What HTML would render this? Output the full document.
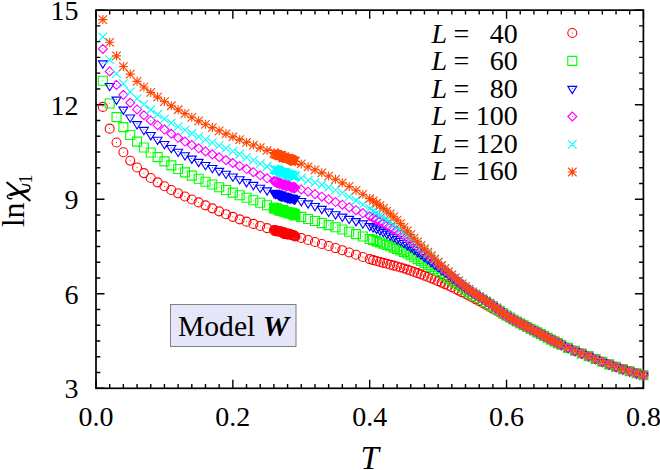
<!DOCTYPE html>
<html><head><meta charset="utf-8"><title>chart</title>
<style>
html,body{margin:0;padding:0;background:#fff;}
svg{display:block;font-family:"Liberation Serif",serif;}
</style></head><body>
<svg width="660" height="470" viewBox="0 0 660 470">
<rect width="660" height="470" fill="#fff"/>
<g font-size="28" fill="#000">
<text x="96" y="426.4" text-anchor="middle">0.0</text>
<text x="232.85" y="426.4" text-anchor="middle">0.2</text>
<text x="369.7" y="426.4" text-anchor="middle">0.4</text>
<text x="506.55" y="426.4" text-anchor="middle">0.6</text>
<text x="643.4" y="426.4" text-anchor="middle">0.8</text>
<text x="78.6" y="398.2" text-anchor="end">3</text>
<text x="78.6" y="303.66" text-anchor="end">6</text>
<text x="78.6" y="209.12" text-anchor="end">9</text>
<text x="78.6" y="114.59" text-anchor="end">12</text>
<text x="78.6" y="20.05" text-anchor="end">15</text>
<text x="431.6" y="42.7" font-style="italic">L</text><text x="453.4" y="42.7">=</text><text x="517.7" y="42.7" text-anchor="end">40</text>
<text x="431.6" y="70.2" font-style="italic">L</text><text x="453.4" y="70.2">=</text><text x="517.7" y="70.2" text-anchor="end">60</text>
<text x="431.6" y="97.8" font-style="italic">L</text><text x="453.4" y="97.8">=</text><text x="517.7" y="97.8" text-anchor="end">80</text>
<text x="431.6" y="125.3" font-style="italic">L</text><text x="453.4" y="125.3">=</text><text x="517.7" y="125.3" text-anchor="end">100</text>
<text x="431.6" y="152.9" font-style="italic">L</text><text x="453.4" y="152.9">=</text><text x="517.7" y="152.9" text-anchor="end">120</text>
<text x="431.6" y="180.4" font-style="italic">L</text><text x="453.4" y="180.4">=</text><text x="517.7" y="180.4" text-anchor="end">160</text>
</g>
<text x="369.6" y="469.3" font-size="33" font-style="italic" text-anchor="middle">T</text>
<text transform="translate(23.9,227.3) rotate(-90)" font-size="32">ln</text>
<text transform="translate(31.9,183.6) rotate(-90)" font-size="18">1</text>
<g fill="none" stroke="#000" stroke-linecap="round" transform="translate(0,0.6)">
<path d="M7.2,182 L29.7,199.7" stroke-width="2.1"/>
<path d="M11.8,197.9 C7.5,199 5.8,194.6 9.0,194.3 C13,194 15.5,192.8 18.2,192 C22,190.9 26,191.5 29,189.3 C31,187.6 30,184.6 27,184.4 C25,184.2 23.6,184.5 22.6,183.7" stroke-width="1.4"/>
<path d="M11,194 C14,193.4 16,192.6 18.2,192 C22,190.9 25,191.2 27.5,190.2" stroke-width="3.1"/>
</g>
<rect x="170.5" y="304.5" width="125.5" height="42" fill="#e6e6fa" stroke="#808080" stroke-width="1"/>
<text x="178" y="335.5" font-size="29.6">Model <tspan font-style="italic" font-weight="bold">W</tspan></text>
<path d="M96 388.3v-8.5M96 10.15v8.5M109.69 388.3v-4.3M109.69 10.15v4.3M123.37 388.3v-4.3M123.37 10.15v4.3M137.06 388.3v-4.3M137.06 10.15v4.3M150.74 388.3v-4.3M150.74 10.15v4.3M164.43 388.3v-4.3M164.43 10.15v4.3M178.11 388.3v-4.3M178.11 10.15v4.3M191.8 388.3v-4.3M191.8 10.15v4.3M205.48 388.3v-4.3M205.48 10.15v4.3M219.16 388.3v-4.3M219.16 10.15v4.3M232.85 388.3v-8.5M232.85 10.15v8.5M246.53 388.3v-4.3M246.53 10.15v4.3M260.22 388.3v-4.3M260.22 10.15v4.3M273.9 388.3v-4.3M273.9 10.15v4.3M287.59 388.3v-4.3M287.59 10.15v4.3M301.27 388.3v-4.3M301.27 10.15v4.3M314.96 388.3v-4.3M314.96 10.15v4.3M328.64 388.3v-4.3M328.64 10.15v4.3M342.33 388.3v-4.3M342.33 10.15v4.3M356.01 388.3v-4.3M356.01 10.15v4.3M369.7 388.3v-8.5M369.7 10.15v8.5M383.38 388.3v-4.3M383.38 10.15v4.3M397.07 388.3v-4.3M397.07 10.15v4.3M410.75 388.3v-4.3M410.75 10.15v4.3M424.44 388.3v-4.3M424.44 10.15v4.3M438.12 388.3v-4.3M438.12 10.15v4.3M451.81 388.3v-4.3M451.81 10.15v4.3M465.5 388.3v-4.3M465.5 10.15v4.3M479.18 388.3v-4.3M479.18 10.15v4.3M492.86 388.3v-4.3M492.86 10.15v4.3M506.55 388.3v-8.5M506.55 10.15v8.5M520.23 388.3v-4.3M520.23 10.15v4.3M533.92 388.3v-4.3M533.92 10.15v4.3M547.61 388.3v-4.3M547.61 10.15v4.3M561.29 388.3v-4.3M561.29 10.15v4.3M574.97 388.3v-4.3M574.97 10.15v4.3M588.66 388.3v-4.3M588.66 10.15v4.3M602.34 388.3v-4.3M602.34 10.15v4.3M616.03 388.3v-4.3M616.03 10.15v4.3M629.71 388.3v-4.3M629.71 10.15v4.3M643.4 388.3v-8.5M643.4 10.15v8.5M96 388.3h8.5M643.4 388.3h-8.5M96 372.54h4.3M643.4 372.54h-4.3M96 356.79h4.3M643.4 356.79h-4.3M96 341.03h4.3M643.4 341.03h-4.3M96 325.27h4.3M643.4 325.27h-4.3M96 309.52h4.3M643.4 309.52h-4.3M96 293.76h8.5M643.4 293.76h-8.5M96 278.01h4.3M643.4 278.01h-4.3M96 262.25h4.3M643.4 262.25h-4.3M96 246.49h4.3M643.4 246.49h-4.3M96 230.74h4.3M643.4 230.74h-4.3M96 214.98h4.3M643.4 214.98h-4.3M96 199.22h8.5M643.4 199.22h-8.5M96 183.47h4.3M643.4 183.47h-4.3M96 167.71h4.3M643.4 167.71h-4.3M96 151.96h4.3M643.4 151.96h-4.3M96 136.2h4.3M643.4 136.2h-4.3M96 120.44h4.3M643.4 120.44h-4.3M96 104.69h8.5M643.4 104.69h-8.5M96 88.93h4.3M643.4 88.93h-4.3M96 73.17h4.3M643.4 73.17h-4.3M96 57.42h4.3M643.4 57.42h-4.3M96 41.66h4.3M643.4 41.66h-4.3M96 25.91h4.3M643.4 25.91h-4.3M96 10.15h8.5M643.4 10.15h-8.5" stroke="#000" stroke-width="1.4" fill="none"/>
<rect x="96" y="10.15" width="547.4" height="378.15" fill="none" stroke="#000" stroke-width="1.7"/>
<g fill="none" stroke-width="1.1">
<path stroke="#ff0000" d="M98.34 106.89a4.5 4.5 0 1 0 9.0 0a4.5 4.5 0 1 0 -9.0 0M105.19 128.64a4.5 4.5 0 1 0 9.0 0a4.5 4.5 0 1 0 -9.0 0M112.03 142.5a4.5 4.5 0 1 0 9.0 0a4.5 4.5 0 1 0 -9.0 0M118.87 152.27a4.5 4.5 0 1 0 9.0 0a4.5 4.5 0 1 0 -9.0 0M125.71 160.78a4.5 4.5 0 1 0 9.0 0a4.5 4.5 0 1 0 -9.0 0M132.56 167.48a4.5 4.5 0 1 0 9.0 0a4.5 4.5 0 1 0 -9.0 0M139.4 173.11a4.5 4.5 0 1 0 9.0 0a4.5 4.5 0 1 0 -9.0 0M146.24 177.99a4.5 4.5 0 1 0 9.0 0a4.5 4.5 0 1 0 -9.0 0M153.08 182.33a4.5 4.5 0 1 0 9.0 0a4.5 4.5 0 1 0 -9.0 0M159.93 186.3a4.5 4.5 0 1 0 9.0 0a4.5 4.5 0 1 0 -9.0 0M166.77 189.96a4.5 4.5 0 1 0 9.0 0a4.5 4.5 0 1 0 -9.0 0M173.61 193.32a4.5 4.5 0 1 0 9.0 0a4.5 4.5 0 1 0 -9.0 0M180.45 196.45a4.5 4.5 0 1 0 9.0 0a4.5 4.5 0 1 0 -9.0 0M187.3 199.45a4.5 4.5 0 1 0 9.0 0a4.5 4.5 0 1 0 -9.0 0M194.14 202.38a4.5 4.5 0 1 0 9.0 0a4.5 4.5 0 1 0 -9.0 0M200.98 205.35a4.5 4.5 0 1 0 9.0 0a4.5 4.5 0 1 0 -9.0 0M207.82 208.36a4.5 4.5 0 1 0 9.0 0a4.5 4.5 0 1 0 -9.0 0M214.66 211.34a4.5 4.5 0 1 0 9.0 0a4.5 4.5 0 1 0 -9.0 0M221.51 214.21a4.5 4.5 0 1 0 9.0 0a4.5 4.5 0 1 0 -9.0 0M228.35 216.87a4.5 4.5 0 1 0 9.0 0a4.5 4.5 0 1 0 -9.0 0M235.19 219.33a4.5 4.5 0 1 0 9.0 0a4.5 4.5 0 1 0 -9.0 0M242.03 221.67a4.5 4.5 0 1 0 9.0 0a4.5 4.5 0 1 0 -9.0 0M248.88 223.89a4.5 4.5 0 1 0 9.0 0a4.5 4.5 0 1 0 -9.0 0M255.72 226.03a4.5 4.5 0 1 0 9.0 0a4.5 4.5 0 1 0 -9.0 0M262.56 228.09a4.5 4.5 0 1 0 9.0 0a4.5 4.5 0 1 0 -9.0 0M269.4 230.11a4.5 4.5 0 1 0 9.0 0a4.5 4.5 0 1 0 -9.0 0M269.75 230.38a4.5 4.5 0 1 0 9.0 0a4.5 4.5 0 1 0 -9.0 0M270.43 231.25a4.5 4.5 0 1 0 9.0 0a4.5 4.5 0 1 0 -9.0 0M271.12 230.06a4.5 4.5 0 1 0 9.0 0a4.5 4.5 0 1 0 -9.0 0M271.8 231.21a4.5 4.5 0 1 0 9.0 0a4.5 4.5 0 1 0 -9.0 0M272.48 231.1a4.5 4.5 0 1 0 9.0 0a4.5 4.5 0 1 0 -9.0 0M273.17 231.57a4.5 4.5 0 1 0 9.0 0a4.5 4.5 0 1 0 -9.0 0M273.85 231.35a4.5 4.5 0 1 0 9.0 0a4.5 4.5 0 1 0 -9.0 0M274.54 231.36a4.5 4.5 0 1 0 9.0 0a4.5 4.5 0 1 0 -9.0 0M275.22 231.27a4.5 4.5 0 1 0 9.0 0a4.5 4.5 0 1 0 -9.0 0M275.91 231.64a4.5 4.5 0 1 0 9.0 0a4.5 4.5 0 1 0 -9.0 0M276.25 232.09a4.5 4.5 0 1 0 9.0 0a4.5 4.5 0 1 0 -9.0 0M276.59 231.28a4.5 4.5 0 1 0 9.0 0a4.5 4.5 0 1 0 -9.0 0M277.27 232.19a4.5 4.5 0 1 0 9.0 0a4.5 4.5 0 1 0 -9.0 0M277.96 231.98a4.5 4.5 0 1 0 9.0 0a4.5 4.5 0 1 0 -9.0 0M278.64 232.38a4.5 4.5 0 1 0 9.0 0a4.5 4.5 0 1 0 -9.0 0M279.33 233.86a4.5 4.5 0 1 0 9.0 0a4.5 4.5 0 1 0 -9.0 0M280.01 232.4a4.5 4.5 0 1 0 9.0 0a4.5 4.5 0 1 0 -9.0 0M280.7 233.46a4.5 4.5 0 1 0 9.0 0a4.5 4.5 0 1 0 -9.0 0M281.38 234.28a4.5 4.5 0 1 0 9.0 0a4.5 4.5 0 1 0 -9.0 0M282.06 233.12a4.5 4.5 0 1 0 9.0 0a4.5 4.5 0 1 0 -9.0 0M282.75 234.51a4.5 4.5 0 1 0 9.0 0a4.5 4.5 0 1 0 -9.0 0M283.09 234.05a4.5 4.5 0 1 0 9.0 0a4.5 4.5 0 1 0 -9.0 0M283.43 234.76a4.5 4.5 0 1 0 9.0 0a4.5 4.5 0 1 0 -9.0 0M284.12 234.44a4.5 4.5 0 1 0 9.0 0a4.5 4.5 0 1 0 -9.0 0M284.8 234.22a4.5 4.5 0 1 0 9.0 0a4.5 4.5 0 1 0 -9.0 0M285.48 233.87a4.5 4.5 0 1 0 9.0 0a4.5 4.5 0 1 0 -9.0 0M286.17 234.3a4.5 4.5 0 1 0 9.0 0a4.5 4.5 0 1 0 -9.0 0M286.85 235.11a4.5 4.5 0 1 0 9.0 0a4.5 4.5 0 1 0 -9.0 0M287.54 235.08a4.5 4.5 0 1 0 9.0 0a4.5 4.5 0 1 0 -9.0 0M288.22 234.88a4.5 4.5 0 1 0 9.0 0a4.5 4.5 0 1 0 -9.0 0M288.91 235.81a4.5 4.5 0 1 0 9.0 0a4.5 4.5 0 1 0 -9.0 0M289.59 235.41a4.5 4.5 0 1 0 9.0 0a4.5 4.5 0 1 0 -9.0 0M289.93 236.01a4.5 4.5 0 1 0 9.0 0a4.5 4.5 0 1 0 -9.0 0M290.27 235.85a4.5 4.5 0 1 0 9.0 0a4.5 4.5 0 1 0 -9.0 0M290.96 236.56a4.5 4.5 0 1 0 9.0 0a4.5 4.5 0 1 0 -9.0 0M296.77 237.99a4.5 4.5 0 1 0 9.0 0a4.5 4.5 0 1 0 -9.0 0M303.62 239.97a4.5 4.5 0 1 0 9.0 0a4.5 4.5 0 1 0 -9.0 0M310.46 241.97a4.5 4.5 0 1 0 9.0 0a4.5 4.5 0 1 0 -9.0 0M317.3 243.97a4.5 4.5 0 1 0 9.0 0a4.5 4.5 0 1 0 -9.0 0M324.14 246.01a4.5 4.5 0 1 0 9.0 0a4.5 4.5 0 1 0 -9.0 0M330.99 248.07a4.5 4.5 0 1 0 9.0 0a4.5 4.5 0 1 0 -9.0 0M337.83 250.22a4.5 4.5 0 1 0 9.0 0a4.5 4.5 0 1 0 -9.0 0M344.67 252.48a4.5 4.5 0 1 0 9.0 0a4.5 4.5 0 1 0 -9.0 0M351.51 254.75a4.5 4.5 0 1 0 9.0 0a4.5 4.5 0 1 0 -9.0 0M358.36 256.98a4.5 4.5 0 1 0 9.0 0a4.5 4.5 0 1 0 -9.0 0M365.2 259.1a4.5 4.5 0 1 0 9.0 0a4.5 4.5 0 1 0 -9.0 0M368.62 260.09a4.5 4.5 0 1 0 9.0 0a4.5 4.5 0 1 0 -9.0 0M372.04 261.05a4.5 4.5 0 1 0 9.0 0a4.5 4.5 0 1 0 -9.0 0M375.46 261.97a4.5 4.5 0 1 0 9.0 0a4.5 4.5 0 1 0 -9.0 0M378.88 262.87a4.5 4.5 0 1 0 9.0 0a4.5 4.5 0 1 0 -9.0 0M382.31 263.77a4.5 4.5 0 1 0 9.0 0a4.5 4.5 0 1 0 -9.0 0M385.73 264.68a4.5 4.5 0 1 0 9.0 0a4.5 4.5 0 1 0 -9.0 0M389.15 265.59a4.5 4.5 0 1 0 9.0 0a4.5 4.5 0 1 0 -9.0 0M392.57 266.54a4.5 4.5 0 1 0 9.0 0a4.5 4.5 0 1 0 -9.0 0M395.99 267.52a4.5 4.5 0 1 0 9.0 0a4.5 4.5 0 1 0 -9.0 0M399.41 268.55a4.5 4.5 0 1 0 9.0 0a4.5 4.5 0 1 0 -9.0 0M402.83 269.64a4.5 4.5 0 1 0 9.0 0a4.5 4.5 0 1 0 -9.0 0M406.25 270.77a4.5 4.5 0 1 0 9.0 0a4.5 4.5 0 1 0 -9.0 0M409.68 271.94a4.5 4.5 0 1 0 9.0 0a4.5 4.5 0 1 0 -9.0 0M413.1 273.16a4.5 4.5 0 1 0 9.0 0a4.5 4.5 0 1 0 -9.0 0M416.52 274.42a4.5 4.5 0 1 0 9.0 0a4.5 4.5 0 1 0 -9.0 0M419.94 275.71a4.5 4.5 0 1 0 9.0 0a4.5 4.5 0 1 0 -9.0 0M423.36 277.03a4.5 4.5 0 1 0 9.0 0a4.5 4.5 0 1 0 -9.0 0M426.78 278.38a4.5 4.5 0 1 0 9.0 0a4.5 4.5 0 1 0 -9.0 0M430.2 279.76a4.5 4.5 0 1 0 9.0 0a4.5 4.5 0 1 0 -9.0 0M433.62 281.16a4.5 4.5 0 1 0 9.0 0a4.5 4.5 0 1 0 -9.0 0M437.05 282.6a4.5 4.5 0 1 0 9.0 0a4.5 4.5 0 1 0 -9.0 0M440.47 284.11a4.5 4.5 0 1 0 9.0 0a4.5 4.5 0 1 0 -9.0 0M443.89 285.67a4.5 4.5 0 1 0 9.0 0a4.5 4.5 0 1 0 -9.0 0M447.31 287.28a4.5 4.5 0 1 0 9.0 0a4.5 4.5 0 1 0 -9.0 0M450.73 288.93a4.5 4.5 0 1 0 9.0 0a4.5 4.5 0 1 0 -9.0 0M454.15 290.61a4.5 4.5 0 1 0 9.0 0a4.5 4.5 0 1 0 -9.0 0M457.57 292.32a4.5 4.5 0 1 0 9.0 0a4.5 4.5 0 1 0 -9.0 0M461 294.05a4.5 4.5 0 1 0 9.0 0a4.5 4.5 0 1 0 -9.0 0M464.42 295.79a4.5 4.5 0 1 0 9.0 0a4.5 4.5 0 1 0 -9.0 0M467.84 297.54a4.5 4.5 0 1 0 9.0 0a4.5 4.5 0 1 0 -9.0 0M471.26 299.33a4.5 4.5 0 1 0 9.0 0a4.5 4.5 0 1 0 -9.0 0M474.68 301.16a4.5 4.5 0 1 0 9.0 0a4.5 4.5 0 1 0 -9.0 0M478.1 303.04a4.5 4.5 0 1 0 9.0 0a4.5 4.5 0 1 0 -9.0 0M481.52 304.95a4.5 4.5 0 1 0 9.0 0a4.5 4.5 0 1 0 -9.0 0M484.94 306.88a4.5 4.5 0 1 0 9.0 0a4.5 4.5 0 1 0 -9.0 0M488.36 308.82a4.5 4.5 0 1 0 9.0 0a4.5 4.5 0 1 0 -9.0 0M491.79 310.76a4.5 4.5 0 1 0 9.0 0a4.5 4.5 0 1 0 -9.0 0M495.21 312.69a4.5 4.5 0 1 0 9.0 0a4.5 4.5 0 1 0 -9.0 0M498.63 314.59a4.5 4.5 0 1 0 9.0 0a4.5 4.5 0 1 0 -9.0 0M502.05 316.45a4.5 4.5 0 1 0 9.0 0a4.5 4.5 0 1 0 -9.0 0M505.47 318.29a4.5 4.5 0 1 0 9.0 0a4.5 4.5 0 1 0 -9.0 0M508.89 320.11a4.5 4.5 0 1 0 9.0 0a4.5 4.5 0 1 0 -9.0 0M512.31 321.91a4.5 4.5 0 1 0 9.0 0a4.5 4.5 0 1 0 -9.0 0M515.73 323.7a4.5 4.5 0 1 0 9.0 0a4.5 4.5 0 1 0 -9.0 0M519.16 325.46a4.5 4.5 0 1 0 9.0 0a4.5 4.5 0 1 0 -9.0 0M522.58 327.19a4.5 4.5 0 1 0 9.0 0a4.5 4.5 0 1 0 -9.0 0M526 328.91a4.5 4.5 0 1 0 9.0 0a4.5 4.5 0 1 0 -9.0 0M529.42 330.63a4.5 4.5 0 1 0 9.0 0a4.5 4.5 0 1 0 -9.0 0M532.84 332.35a4.5 4.5 0 1 0 9.0 0a4.5 4.5 0 1 0 -9.0 0M536.26 334.1a4.5 4.5 0 1 0 9.0 0a4.5 4.5 0 1 0 -9.0 0M539.68 335.89a4.5 4.5 0 1 0 9.0 0a4.5 4.5 0 1 0 -9.0 0M543.11 337.72a4.5 4.5 0 1 0 9.0 0a4.5 4.5 0 1 0 -9.0 0M546.53 339.56a4.5 4.5 0 1 0 9.0 0a4.5 4.5 0 1 0 -9.0 0M549.95 341.38a4.5 4.5 0 1 0 9.0 0a4.5 4.5 0 1 0 -9.0 0M553.37 343.14a4.5 4.5 0 1 0 9.0 0a4.5 4.5 0 1 0 -9.0 0M556.79 344.81a4.5 4.5 0 1 0 9.0 0a4.5 4.5 0 1 0 -9.0 0M563.63 347.91a4.5 4.5 0 1 0 9.0 0a4.5 4.5 0 1 0 -9.0 0M570.47 350.8a4.5 4.5 0 1 0 9.0 0a4.5 4.5 0 1 0 -9.0 0M577.32 353.51a4.5 4.5 0 1 0 9.0 0a4.5 4.5 0 1 0 -9.0 0M584.16 356.16a4.5 4.5 0 1 0 9.0 0a4.5 4.5 0 1 0 -9.0 0M591 358.93a4.5 4.5 0 1 0 9.0 0a4.5 4.5 0 1 0 -9.0 0M597.84 361.72a4.5 4.5 0 1 0 9.0 0a4.5 4.5 0 1 0 -9.0 0M604.69 364.35a4.5 4.5 0 1 0 9.0 0a4.5 4.5 0 1 0 -9.0 0M611.53 366.79a4.5 4.5 0 1 0 9.0 0a4.5 4.5 0 1 0 -9.0 0M618.37 369.1a4.5 4.5 0 1 0 9.0 0a4.5 4.5 0 1 0 -9.0 0M625.21 371.28a4.5 4.5 0 1 0 9.0 0a4.5 4.5 0 1 0 -9.0 0M632.06 373.32a4.5 4.5 0 1 0 9.0 0a4.5 4.5 0 1 0 -9.0 0M638.9 375.22a4.5 4.5 0 1 0 9.0 0a4.5 4.5 0 1 0 -9.0 0M567.8 33a4.5 4.5 0 1 0 9.0 0a4.5 4.5 0 1 0 -9.0 0"/><path stroke="#ff0000" stroke-linecap="round" stroke-width="1" d="M102.84 106.89h0M109.69 128.64h0M116.53 142.5h0M123.37 152.27h0M130.21 160.78h0M137.06 167.48h0M143.9 173.11h0M150.74 177.99h0M157.58 182.33h0M164.43 186.3h0M171.27 189.96h0M178.11 193.32h0M184.95 196.45h0M191.8 199.45h0M198.64 202.38h0M205.48 205.35h0M212.32 208.36h0M219.16 211.34h0M226.01 214.21h0M232.85 216.87h0M239.69 219.33h0M246.53 221.67h0M253.38 223.89h0M260.22 226.03h0M267.06 228.09h0M273.9 230.11h0M274.25 230.38h0M274.93 231.25h0M275.62 230.06h0M276.3 231.21h0M276.98 231.1h0M277.67 231.57h0M278.35 231.35h0M279.04 231.36h0M279.72 231.27h0M280.41 231.64h0M280.75 232.09h0M281.09 231.28h0M281.77 232.19h0M282.46 231.98h0M283.14 232.38h0M283.83 233.86h0M284.51 232.4h0M285.2 233.46h0M285.88 234.28h0M286.56 233.12h0M287.25 234.51h0M287.59 234.05h0M287.93 234.76h0M288.62 234.44h0M289.3 234.22h0M289.98 233.87h0M290.67 234.3h0M291.35 235.11h0M292.04 235.08h0M292.72 234.88h0M293.41 235.81h0M294.09 235.41h0M294.43 236.01h0M294.77 235.85h0M295.46 236.56h0M301.27 237.99h0M308.12 239.97h0M314.96 241.97h0M321.8 243.97h0M328.64 246.01h0M335.49 248.07h0M342.33 250.22h0M349.17 252.48h0M356.01 254.75h0M362.86 256.98h0M369.7 259.1h0M373.12 260.09h0M376.54 261.05h0M379.96 261.97h0M383.38 262.87h0M386.81 263.77h0M390.23 264.68h0M393.65 265.59h0M397.07 266.54h0M400.49 267.52h0M403.91 268.55h0M407.33 269.64h0M410.75 270.77h0M414.18 271.94h0M417.6 273.16h0M421.02 274.42h0M424.44 275.71h0M427.86 277.03h0M431.28 278.38h0M434.7 279.76h0M438.12 281.16h0M441.55 282.6h0M444.97 284.11h0M448.39 285.67h0M451.81 287.28h0M455.23 288.93h0M458.65 290.61h0M462.07 292.32h0M465.5 294.05h0M468.92 295.79h0M472.34 297.54h0M475.76 299.33h0M479.18 301.16h0M482.6 303.04h0M486.02 304.95h0M489.44 306.88h0M492.86 308.82h0M496.29 310.76h0M499.71 312.69h0M503.13 314.59h0M506.55 316.45h0M509.97 318.29h0M513.39 320.11h0M516.81 321.91h0M520.23 323.7h0M523.66 325.46h0M527.08 327.19h0M530.5 328.91h0M533.92 330.63h0M537.34 332.35h0M540.76 334.1h0M544.18 335.89h0M547.61 337.72h0M551.03 339.56h0M554.45 341.38h0M557.87 343.14h0M561.29 344.81h0M568.13 347.91h0M574.97 350.8h0M581.82 353.51h0M588.66 356.16h0M595.5 358.93h0M602.34 361.72h0M609.19 364.35h0M616.03 366.79h0M622.87 369.1h0M629.71 371.28h0M636.56 373.32h0M643.4 375.22h0M572.3 33h0"/>
<path stroke="#00ff00" d="M98.34 76.24h9.0v9.0h-9.0zM105.19 98.97h9.0v9.0h-9.0zM112.03 112.64h9.0v9.0h-9.0zM118.87 122.59h9.0v9.0h-9.0zM125.71 130.52h9.0v9.0h-9.0zM132.56 137.17h9.0v9.0h-9.0zM139.4 142.93h9.0v9.0h-9.0zM146.24 148.05h9.0v9.0h-9.0zM153.08 152.67h9.0v9.0h-9.0zM159.93 156.91h9.0v9.0h-9.0zM166.77 160.83h9.0v9.0h-9.0zM173.61 164.47h9.0v9.0h-9.0zM180.45 167.9h9.0v9.0h-9.0zM187.3 171.14h9.0v9.0h-9.0zM194.14 174.22h9.0v9.0h-9.0zM200.98 177.18h9.0v9.0h-9.0zM207.82 180.03h9.0v9.0h-9.0zM214.66 182.79h9.0v9.0h-9.0zM221.51 185.48h9.0v9.0h-9.0zM228.35 188.11h9.0v9.0h-9.0zM235.19 190.7h9.0v9.0h-9.0zM242.03 193.27h9.0v9.0h-9.0zM248.88 195.8h9.0v9.0h-9.0zM255.72 198.3h9.0v9.0h-9.0zM262.56 200.76h9.0v9.0h-9.0zM269.4 203.18h9.0v9.0h-9.0zM269.75 203.67h9.0v9.0h-9.0zM270.43 204.13h9.0v9.0h-9.0zM271.12 204.11h9.0v9.0h-9.0zM271.8 203.7h9.0v9.0h-9.0zM272.48 204.12h9.0v9.0h-9.0zM273.17 204.68h9.0v9.0h-9.0zM273.85 204.95h9.0v9.0h-9.0zM274.54 205.88h9.0v9.0h-9.0zM275.22 205.81h9.0v9.0h-9.0zM275.91 206.14h9.0v9.0h-9.0zM276.25 205.54h9.0v9.0h-9.0zM276.59 205.29h9.0v9.0h-9.0zM277.27 205.18h9.0v9.0h-9.0zM277.96 206.43h9.0v9.0h-9.0zM278.64 205.42h9.0v9.0h-9.0zM279.33 207.28h9.0v9.0h-9.0zM280.01 206.81h9.0v9.0h-9.0zM280.7 207.45h9.0v9.0h-9.0zM281.38 207.8h9.0v9.0h-9.0zM282.06 207.5h9.0v9.0h-9.0zM282.75 207.48h9.0v9.0h-9.0zM283.09 207.85h9.0v9.0h-9.0zM283.43 207.71h9.0v9.0h-9.0zM284.12 208.99h9.0v9.0h-9.0zM284.8 208.27h9.0v9.0h-9.0zM285.48 208.01h9.0v9.0h-9.0zM286.17 209.28h9.0v9.0h-9.0zM286.85 208.19h9.0v9.0h-9.0zM287.54 209.25h9.0v9.0h-9.0zM288.22 208.7h9.0v9.0h-9.0zM288.91 210.07h9.0v9.0h-9.0zM289.59 209.99h9.0v9.0h-9.0zM289.93 210.14h9.0v9.0h-9.0zM290.27 209.33h9.0v9.0h-9.0zM290.96 211.04h9.0v9.0h-9.0zM296.77 212.37h9.0v9.0h-9.0zM303.62 214.51h9.0v9.0h-9.0zM310.46 216.57h9.0v9.0h-9.0zM317.3 218.6h9.0v9.0h-9.0zM324.14 220.65h9.0v9.0h-9.0zM330.99 222.77h9.0v9.0h-9.0zM337.83 224.98h9.0v9.0h-9.0zM344.67 227.27h9.0v9.0h-9.0zM351.51 229.62h9.0v9.0h-9.0zM358.36 232.01h9.0v9.0h-9.0zM365.2 234.43h9.0v9.0h-9.0zM368.62 235.64h9.0v9.0h-9.0zM372.04 236.85h9.0v9.0h-9.0zM375.46 238.05h9.0v9.0h-9.0zM378.88 239.27h9.0v9.0h-9.0zM382.31 240.51h9.0v9.0h-9.0zM385.73 241.78h9.0v9.0h-9.0zM389.15 243.09h9.0v9.0h-9.0zM392.57 244.45h9.0v9.0h-9.0zM395.99 245.87h9.0v9.0h-9.0zM399.41 247.35h9.0v9.0h-9.0zM402.83 248.98h9.0v9.0h-9.0zM406.25 250.79h9.0v9.0h-9.0zM409.68 252.69h9.0v9.0h-9.0zM413.1 254.6h9.0v9.0h-9.0zM416.52 256.5h9.0v9.0h-9.0zM419.94 258.44h9.0v9.0h-9.0zM423.36 260.4h9.0v9.0h-9.0zM426.78 262.41h9.0v9.0h-9.0zM430.2 264.47h9.0v9.0h-9.0zM433.62 266.57h9.0v9.0h-9.0zM437.05 268.77h9.0v9.0h-9.0zM440.47 271.06h9.0v9.0h-9.0zM443.89 273.39h9.0v9.0h-9.0zM447.31 275.71h9.0v9.0h-9.0zM450.73 278.05h9.0v9.0h-9.0zM454.15 280.43h9.0v9.0h-9.0zM457.57 282.8h9.0v9.0h-9.0zM461 285.13h9.0v9.0h-9.0zM464.42 287.37h9.0v9.0h-9.0zM467.84 289.5h9.0v9.0h-9.0zM471.26 291.54h9.0v9.0h-9.0zM474.68 293.54h9.0v9.0h-9.0zM478.1 295.53h9.0v9.0h-9.0zM481.52 297.56h9.0v9.0h-9.0zM484.94 299.66h9.0v9.0h-9.0zM488.36 301.88h9.0v9.0h-9.0zM491.79 304.2h9.0v9.0h-9.0zM495.21 306.53h9.0v9.0h-9.0zM498.63 308.83h9.0v9.0h-9.0zM502.05 311.01h9.0v9.0h-9.0zM505.47 313.07h9.0v9.0h-9.0zM508.89 315.06h9.0v9.0h-9.0zM512.31 316.99h9.0v9.0h-9.0zM515.73 318.88h9.0v9.0h-9.0zM519.16 320.74h9.0v9.0h-9.0zM522.58 322.54h9.0v9.0h-9.0zM526 324.31h9.0v9.0h-9.0zM529.42 326.07h9.0v9.0h-9.0zM532.84 327.83h9.0v9.0h-9.0zM536.26 329.6h9.0v9.0h-9.0zM539.68 331.41h9.0v9.0h-9.0zM543.11 333.24h9.0v9.0h-9.0zM546.53 335.08h9.0v9.0h-9.0zM549.95 336.89h9.0v9.0h-9.0zM553.37 338.64h9.0v9.0h-9.0zM556.79 340.31h9.0v9.0h-9.0zM563.63 343.41h9.0v9.0h-9.0zM570.47 346.3h9.0v9.0h-9.0zM577.32 349.01h9.0v9.0h-9.0zM584.16 351.66h9.0v9.0h-9.0zM591 354.43h9.0v9.0h-9.0zM597.84 357.22h9.0v9.0h-9.0zM604.69 359.85h9.0v9.0h-9.0zM611.53 362.29h9.0v9.0h-9.0zM618.37 364.6h9.0v9.0h-9.0zM625.21 366.78h9.0v9.0h-9.0zM632.06 368.82h9.0v9.0h-9.0zM638.9 370.72h9.0v9.0h-9.0zM567.8 56.4h9.0v9.0h-9.0z"/><path stroke="#00ff00" stroke-linecap="round" stroke-width="1" d="M102.84 80.74h0M109.69 103.47h0M116.53 117.14h0M123.37 127.09h0M130.21 135.02h0M137.06 141.67h0M143.9 147.43h0M150.74 152.55h0M157.58 157.17h0M164.43 161.41h0M171.27 165.33h0M178.11 168.97h0M184.95 172.4h0M191.8 175.64h0M198.64 178.72h0M205.48 181.68h0M212.32 184.53h0M219.16 187.29h0M226.01 189.98h0M232.85 192.61h0M239.69 195.2h0M246.53 197.77h0M253.38 200.3h0M260.22 202.8h0M267.06 205.26h0M273.9 207.68h0M274.25 208.17h0M274.93 208.63h0M275.62 208.61h0M276.3 208.2h0M276.98 208.62h0M277.67 209.18h0M278.35 209.45h0M279.04 210.38h0M279.72 210.31h0M280.41 210.64h0M280.75 210.04h0M281.09 209.79h0M281.77 209.68h0M282.46 210.93h0M283.14 209.92h0M283.83 211.78h0M284.51 211.31h0M285.2 211.95h0M285.88 212.3h0M286.56 212h0M287.25 211.98h0M287.59 212.35h0M287.93 212.21h0M288.62 213.49h0M289.3 212.77h0M289.98 212.51h0M290.67 213.78h0M291.35 212.69h0M292.04 213.75h0M292.72 213.2h0M293.41 214.57h0M294.09 214.49h0M294.43 214.64h0M294.77 213.83h0M295.46 215.54h0M301.27 216.87h0M308.12 219.01h0M314.96 221.07h0M321.8 223.1h0M328.64 225.15h0M335.49 227.27h0M342.33 229.48h0M349.17 231.77h0M356.01 234.12h0M362.86 236.51h0M369.7 238.93h0M373.12 240.14h0M376.54 241.35h0M379.96 242.55h0M383.38 243.77h0M386.81 245.01h0M390.23 246.28h0M393.65 247.59h0M397.07 248.95h0M400.49 250.37h0M403.91 251.85h0M407.33 253.48h0M410.75 255.29h0M414.18 257.19h0M417.6 259.1h0M421.02 261h0M424.44 262.94h0M427.86 264.9h0M431.28 266.91h0M434.7 268.97h0M438.12 271.07h0M441.55 273.27h0M444.97 275.56h0M448.39 277.89h0M451.81 280.21h0M455.23 282.55h0M458.65 284.93h0M462.07 287.3h0M465.5 289.63h0M468.92 291.87h0M472.34 294h0M475.76 296.04h0M479.18 298.04h0M482.6 300.03h0M486.02 302.06h0M489.44 304.16h0M492.86 306.38h0M496.29 308.7h0M499.71 311.03h0M503.13 313.33h0M506.55 315.51h0M509.97 317.57h0M513.39 319.56h0M516.81 321.49h0M520.23 323.38h0M523.66 325.24h0M527.08 327.04h0M530.5 328.81h0M533.92 330.57h0M537.34 332.33h0M540.76 334.1h0M544.18 335.91h0M547.61 337.74h0M551.03 339.58h0M554.45 341.39h0M557.87 343.14h0M561.29 344.81h0M568.13 347.91h0M574.97 350.8h0M581.82 353.51h0M588.66 356.16h0M595.5 358.93h0M602.34 361.72h0M609.19 364.35h0M616.03 366.79h0M622.87 369.1h0M629.71 371.28h0M636.56 373.32h0M643.4 375.22h0M572.3 60.9h0"/>
<path stroke="#0000ff" d="M102.84 68.13l-4.5 -7.29h9zM109.69 90.81l-4.5 -7.29h9zM116.53 104.44l-4.5 -7.29h9zM123.37 114.37l-4.5 -7.29h9zM130.21 122.29l-4.5 -7.29h9zM137.06 128.94l-4.5 -7.29h9zM143.9 134.71l-4.5 -7.29h9zM150.74 139.86l-4.5 -7.29h9zM157.58 144.52l-4.5 -7.29h9zM164.43 148.8l-4.5 -7.29h9zM171.27 152.79l-4.5 -7.29h9zM178.11 156.52l-4.5 -7.29h9zM184.95 160.05l-4.5 -7.29h9zM191.8 163.41l-4.5 -7.29h9zM198.64 166.63l-4.5 -7.29h9zM205.48 169.73l-4.5 -7.29h9zM212.32 172.73l-4.5 -7.29h9zM219.16 175.64l-4.5 -7.29h9zM226.01 178.48l-4.5 -7.29h9zM232.85 181.26l-4.5 -7.29h9zM239.69 184.05l-4.5 -7.29h9zM246.53 186.88l-4.5 -7.29h9zM253.38 189.71l-4.5 -7.29h9zM260.22 192.49l-4.5 -7.29h9zM267.06 195.16l-4.5 -7.29h9zM273.9 197.7l-4.5 -7.29h9zM274.25 197.78l-4.5 -7.29h9zM274.93 197.68l-4.5 -7.29h9zM275.62 198.74l-4.5 -7.29h9zM276.3 198.21l-4.5 -7.29h9zM276.98 198l-4.5 -7.29h9zM277.67 198.66l-4.5 -7.29h9zM278.35 199.79l-4.5 -7.29h9zM279.04 199.82l-4.5 -7.29h9zM279.72 200.14l-4.5 -7.29h9zM280.41 200.64l-4.5 -7.29h9zM280.75 200.03l-4.5 -7.29h9zM281.09 199.2l-4.5 -7.29h9zM281.77 201.16l-4.5 -7.29h9zM282.46 200.99l-4.5 -7.29h9zM283.14 200.73l-4.5 -7.29h9zM283.83 200.35l-4.5 -7.29h9zM284.51 201.78l-4.5 -7.29h9zM285.2 200.83l-4.5 -7.29h9zM285.88 201.86l-4.5 -7.29h9zM286.56 201.23l-4.5 -7.29h9zM287.25 202.94l-4.5 -7.29h9zM287.59 202.11l-4.5 -7.29h9zM287.93 201.89l-4.5 -7.29h9zM288.62 202.79l-4.5 -7.29h9zM289.3 202.91l-4.5 -7.29h9zM289.98 202.91l-4.5 -7.29h9zM290.67 202.97l-4.5 -7.29h9zM291.35 202.28l-4.5 -7.29h9zM292.04 202.86l-4.5 -7.29h9zM292.72 202.58l-4.5 -7.29h9zM293.41 203.51l-4.5 -7.29h9zM294.09 203.81l-4.5 -7.29h9zM294.43 203.93l-4.5 -7.29h9zM294.77 204.12l-4.5 -7.29h9zM295.46 203.51l-4.5 -7.29h9zM301.27 205.84l-4.5 -7.29h9zM308.12 208.16l-4.5 -7.29h9zM314.96 210.81l-4.5 -7.29h9zM321.8 213.63l-4.5 -7.29h9zM328.64 216.45l-4.5 -7.29h9zM335.49 219.08l-4.5 -7.29h9zM342.33 221.44l-4.5 -7.29h9zM349.17 223.67l-4.5 -7.29h9zM356.01 225.88l-4.5 -7.29h9zM362.86 228.19l-4.5 -7.29h9zM369.7 230.74l-4.5 -7.29h9zM373.12 232.13l-4.5 -7.29h9zM376.54 233.6l-4.5 -7.29h9zM379.96 235.15l-4.5 -7.29h9zM383.38 236.77l-4.5 -7.29h9zM386.81 238.46l-4.5 -7.29h9zM390.23 240.22l-4.5 -7.29h9zM393.65 242.03l-4.5 -7.29h9zM397.07 243.89l-4.5 -7.29h9zM400.49 245.8l-4.5 -7.29h9zM403.91 247.75l-4.5 -7.29h9zM407.33 249.84l-4.5 -7.29h9zM410.75 252.11l-4.5 -7.29h9zM414.18 254.49l-4.5 -7.29h9zM417.6 256.89l-4.5 -7.29h9zM421.02 259.31l-4.5 -7.29h9zM424.44 261.8l-4.5 -7.29h9zM427.86 264.32l-4.5 -7.29h9zM431.28 266.88l-4.5 -7.29h9zM434.7 269.45l-4.5 -7.29h9zM438.12 272.02l-4.5 -7.29h9zM441.55 274.6l-4.5 -7.29h9zM444.97 277.2l-4.5 -7.29h9zM448.39 279.81l-4.5 -7.29h9zM451.81 282.42l-4.5 -7.29h9zM455.23 285.04l-4.5 -7.29h9zM458.65 287.69l-4.5 -7.29h9zM462.07 290.32l-4.5 -7.29h9zM465.5 292.88l-4.5 -7.29h9zM468.92 295.34l-4.5 -7.29h9zM472.34 297.65l-4.5 -7.29h9zM475.76 299.87l-4.5 -7.29h9zM479.18 302.02l-4.5 -7.29h9zM482.6 304.16l-4.5 -7.29h9zM486.02 306.33l-4.5 -7.29h9zM489.44 308.57l-4.5 -7.29h9zM492.86 310.94l-4.5 -7.29h9zM496.29 313.41l-4.5 -7.29h9zM499.71 315.88l-4.5 -7.29h9zM503.13 318.29l-4.5 -7.29h9zM506.55 320.55l-4.5 -7.29h9zM509.97 322.63l-4.5 -7.29h9zM513.39 324.62l-4.5 -7.29h9zM516.81 326.54l-4.5 -7.29h9zM520.23 328.42l-4.5 -7.29h9zM523.66 330.28l-4.5 -7.29h9zM527.08 332.08l-4.5 -7.29h9zM530.5 333.85l-4.5 -7.29h9zM533.92 335.61l-4.5 -7.29h9zM537.34 337.37l-4.5 -7.29h9zM540.76 339.14l-4.5 -7.29h9zM544.18 340.95l-4.5 -7.29h9zM547.61 342.78l-4.5 -7.29h9zM551.03 344.62l-4.5 -7.29h9zM554.45 346.43l-4.5 -7.29h9zM557.87 348.18l-4.5 -7.29h9zM561.29 349.85l-4.5 -7.29h9zM568.13 352.95l-4.5 -7.29h9zM574.97 355.84l-4.5 -7.29h9zM581.82 358.55l-4.5 -7.29h9zM588.66 361.2l-4.5 -7.29h9zM595.5 363.97l-4.5 -7.29h9zM602.34 366.76l-4.5 -7.29h9zM609.19 369.39l-4.5 -7.29h9zM616.03 371.83l-4.5 -7.29h9zM622.87 374.14l-4.5 -7.29h9zM629.71 376.32l-4.5 -7.29h9zM636.56 378.36l-4.5 -7.29h9zM643.4 380.26l-4.5 -7.29h9zM572.3 93.64l-4.5 -7.29h9z"/><path stroke="#0000ff" stroke-linecap="round" stroke-width="1" d="M102.84 63.09h0M109.69 85.77h0M116.53 99.4h0M123.37 109.33h0M130.21 117.25h0M137.06 123.9h0M143.9 129.67h0M150.74 134.82h0M157.58 139.48h0M164.43 143.76h0M171.27 147.75h0M178.11 151.48h0M184.95 155.01h0M191.8 158.37h0M198.64 161.59h0M205.48 164.69h0M212.32 167.69h0M219.16 170.6h0M226.01 173.44h0M232.85 176.22h0M239.69 179.01h0M246.53 181.84h0M253.38 184.67h0M260.22 187.45h0M267.06 190.12h0M273.9 192.66h0M274.25 192.74h0M274.93 192.64h0M275.62 193.7h0M276.3 193.17h0M276.98 192.96h0M277.67 193.62h0M278.35 194.75h0M279.04 194.78h0M279.72 195.1h0M280.41 195.6h0M280.75 194.99h0M281.09 194.16h0M281.77 196.12h0M282.46 195.95h0M283.14 195.69h0M283.83 195.31h0M284.51 196.74h0M285.2 195.79h0M285.88 196.82h0M286.56 196.19h0M287.25 197.9h0M287.59 197.07h0M287.93 196.85h0M288.62 197.75h0M289.3 197.87h0M289.98 197.87h0M290.67 197.93h0M291.35 197.24h0M292.04 197.82h0M292.72 197.54h0M293.41 198.47h0M294.09 198.77h0M294.43 198.89h0M294.77 199.08h0M295.46 198.47h0M301.27 200.8h0M308.12 203.12h0M314.96 205.77h0M321.8 208.59h0M328.64 211.41h0M335.49 214.04h0M342.33 216.4h0M349.17 218.63h0M356.01 220.84h0M362.86 223.15h0M369.7 225.7h0M373.12 227.09h0M376.54 228.56h0M379.96 230.11h0M383.38 231.73h0M386.81 233.42h0M390.23 235.18h0M393.65 236.99h0M397.07 238.85h0M400.49 240.76h0M403.91 242.71h0M407.33 244.8h0M410.75 247.07h0M414.18 249.45h0M417.6 251.85h0M421.02 254.27h0M424.44 256.76h0M427.86 259.28h0M431.28 261.84h0M434.7 264.41h0M438.12 266.98h0M441.55 269.56h0M444.97 272.16h0M448.39 274.77h0M451.81 277.38h0M455.23 280h0M458.65 282.65h0M462.07 285.28h0M465.5 287.84h0M468.92 290.3h0M472.34 292.61h0M475.76 294.83h0M479.18 296.98h0M482.6 299.12h0M486.02 301.29h0M489.44 303.53h0M492.86 305.9h0M496.29 308.37h0M499.71 310.84h0M503.13 313.25h0M506.55 315.51h0M509.97 317.59h0M513.39 319.58h0M516.81 321.5h0M520.23 323.38h0M523.66 325.24h0M527.08 327.04h0M530.5 328.81h0M533.92 330.57h0M537.34 332.33h0M540.76 334.1h0M544.18 335.91h0M547.61 337.74h0M551.03 339.58h0M554.45 341.39h0M557.87 343.14h0M561.29 344.81h0M568.13 347.91h0M574.97 350.8h0M581.82 353.51h0M588.66 356.16h0M595.5 358.93h0M602.34 361.72h0M609.19 364.35h0M616.03 366.79h0M622.87 369.1h0M629.71 371.28h0M636.56 373.32h0M643.4 375.22h0M572.3 88.6h0"/>
<path stroke="#ff00ff" d="M102.84 44.41l-4.5 4.5l4.5 4.5l4.5 -4.5zM109.69 66.94l-4.5 4.5l4.5 4.5l4.5 -4.5zM116.53 80.47l-4.5 4.5l4.5 4.5l4.5 -4.5zM123.37 90.35l-4.5 4.5l4.5 4.5l4.5 -4.5zM130.21 98.26l-4.5 4.5l4.5 4.5l4.5 -4.5zM137.06 104.92l-4.5 4.5l4.5 4.5l4.5 -4.5zM143.9 110.75l-4.5 4.5l4.5 4.5l4.5 -4.5zM150.74 115.96l-4.5 4.5l4.5 4.5l4.5 -4.5zM157.58 120.7l-4.5 4.5l4.5 4.5l4.5 -4.5zM164.43 125.08l-4.5 4.5l4.5 4.5l4.5 -4.5zM171.27 129.26l-4.5 4.5l4.5 4.5l4.5 -4.5zM178.11 133.29l-4.5 4.5l4.5 4.5l4.5 -4.5zM184.95 137.06l-4.5 4.5l4.5 4.5l4.5 -4.5zM191.8 140.54l-4.5 4.5l4.5 4.5l4.5 -4.5zM198.64 143.8l-4.5 4.5l4.5 4.5l4.5 -4.5zM205.48 146.89l-4.5 4.5l4.5 4.5l4.5 -4.5zM212.32 149.87l-4.5 4.5l4.5 4.5l4.5 -4.5zM219.16 152.76l-4.5 4.5l4.5 4.5l4.5 -4.5zM226.01 155.62l-4.5 4.5l4.5 4.5l4.5 -4.5zM232.85 158.49l-4.5 4.5l4.5 4.5l4.5 -4.5zM239.69 161.46l-4.5 4.5l4.5 4.5l4.5 -4.5zM246.53 164.55l-4.5 4.5l4.5 4.5l4.5 -4.5zM253.38 167.7l-4.5 4.5l4.5 4.5l4.5 -4.5zM260.22 170.81l-4.5 4.5l4.5 4.5l4.5 -4.5zM267.06 173.8l-4.5 4.5l4.5 4.5l4.5 -4.5zM273.9 176.6l-4.5 4.5l4.5 4.5l4.5 -4.5zM274.25 176.65l-4.5 4.5l4.5 4.5l4.5 -4.5zM274.93 177.41l-4.5 4.5l4.5 4.5l4.5 -4.5zM275.62 177.4l-4.5 4.5l4.5 4.5l4.5 -4.5zM276.3 176.86l-4.5 4.5l4.5 4.5l4.5 -4.5zM276.98 178.7l-4.5 4.5l4.5 4.5l4.5 -4.5zM277.67 178.73l-4.5 4.5l4.5 4.5l4.5 -4.5zM278.35 177.94l-4.5 4.5l4.5 4.5l4.5 -4.5zM279.04 177.9l-4.5 4.5l4.5 4.5l4.5 -4.5zM279.72 179.44l-4.5 4.5l4.5 4.5l4.5 -4.5zM280.41 178.85l-4.5 4.5l4.5 4.5l4.5 -4.5zM280.75 179.11l-4.5 4.5l4.5 4.5l4.5 -4.5zM281.09 178.48l-4.5 4.5l4.5 4.5l4.5 -4.5zM281.77 180l-4.5 4.5l4.5 4.5l4.5 -4.5zM282.46 180.28l-4.5 4.5l4.5 4.5l4.5 -4.5zM283.14 180.64l-4.5 4.5l4.5 4.5l4.5 -4.5zM283.83 180.65l-4.5 4.5l4.5 4.5l4.5 -4.5zM284.51 179.43l-4.5 4.5l4.5 4.5l4.5 -4.5zM285.2 179.96l-4.5 4.5l4.5 4.5l4.5 -4.5zM285.88 181.37l-4.5 4.5l4.5 4.5l4.5 -4.5zM286.56 180.35l-4.5 4.5l4.5 4.5l4.5 -4.5zM287.25 181.57l-4.5 4.5l4.5 4.5l4.5 -4.5zM287.59 181.24l-4.5 4.5l4.5 4.5l4.5 -4.5zM287.93 181.47l-4.5 4.5l4.5 4.5l4.5 -4.5zM288.62 180.69l-4.5 4.5l4.5 4.5l4.5 -4.5zM289.3 181.11l-4.5 4.5l4.5 4.5l4.5 -4.5zM289.98 182.21l-4.5 4.5l4.5 4.5l4.5 -4.5zM290.67 182.69l-4.5 4.5l4.5 4.5l4.5 -4.5zM291.35 182.5l-4.5 4.5l4.5 4.5l4.5 -4.5zM292.04 183.37l-4.5 4.5l4.5 4.5l4.5 -4.5zM292.72 183.09l-4.5 4.5l4.5 4.5l4.5 -4.5zM293.41 182.24l-4.5 4.5l4.5 4.5l4.5 -4.5zM294.09 183.89l-4.5 4.5l4.5 4.5l4.5 -4.5zM294.43 183.06l-4.5 4.5l4.5 4.5l4.5 -4.5zM294.77 182.97l-4.5 4.5l4.5 4.5l4.5 -4.5zM295.46 183.14l-4.5 4.5l4.5 4.5l4.5 -4.5zM301.27 184.96l-4.5 4.5l4.5 4.5l4.5 -4.5zM308.12 187.16l-4.5 4.5l4.5 4.5l4.5 -4.5zM314.96 189.61l-4.5 4.5l4.5 4.5l4.5 -4.5zM321.8 192.21l-4.5 4.5l4.5 4.5l4.5 -4.5zM328.64 194.89l-4.5 4.5l4.5 4.5l4.5 -4.5zM335.49 197.56l-4.5 4.5l4.5 4.5l4.5 -4.5zM342.33 200.21l-4.5 4.5l4.5 4.5l4.5 -4.5zM349.17 202.89l-4.5 4.5l4.5 4.5l4.5 -4.5zM356.01 205.68l-4.5 4.5l4.5 4.5l4.5 -4.5zM362.86 208.61l-4.5 4.5l4.5 4.5l4.5 -4.5zM369.7 211.74l-4.5 4.5l4.5 4.5l4.5 -4.5zM373.12 213.4l-4.5 4.5l4.5 4.5l4.5 -4.5zM376.54 215.14l-4.5 4.5l4.5 4.5l4.5 -4.5zM379.96 216.95l-4.5 4.5l4.5 4.5l4.5 -4.5zM383.38 218.82l-4.5 4.5l4.5 4.5l4.5 -4.5zM386.81 220.77l-4.5 4.5l4.5 4.5l4.5 -4.5zM390.23 222.8l-4.5 4.5l4.5 4.5l4.5 -4.5zM393.65 224.89l-4.5 4.5l4.5 4.5l4.5 -4.5zM397.07 227.05l-4.5 4.5l4.5 4.5l4.5 -4.5zM400.49 229.29l-4.5 4.5l4.5 4.5l4.5 -4.5zM403.91 231.59l-4.5 4.5l4.5 4.5l4.5 -4.5zM407.33 234.11l-4.5 4.5l4.5 4.5l4.5 -4.5zM410.75 236.87l-4.5 4.5l4.5 4.5l4.5 -4.5zM414.18 239.75l-4.5 4.5l4.5 4.5l4.5 -4.5zM417.6 242.62l-4.5 4.5l4.5 4.5l4.5 -4.5zM421.02 245.47l-4.5 4.5l4.5 4.5l4.5 -4.5zM424.44 248.35l-4.5 4.5l4.5 4.5l4.5 -4.5zM427.86 251.26l-4.5 4.5l4.5 4.5l4.5 -4.5zM431.28 254.17l-4.5 4.5l4.5 4.5l4.5 -4.5zM434.7 257.08l-4.5 4.5l4.5 4.5l4.5 -4.5zM438.12 259.96l-4.5 4.5l4.5 4.5l4.5 -4.5zM441.55 262.81l-4.5 4.5l4.5 4.5l4.5 -4.5zM444.97 265.65l-4.5 4.5l4.5 4.5l4.5 -4.5zM448.39 268.49l-4.5 4.5l4.5 4.5l4.5 -4.5zM451.81 271.3l-4.5 4.5l4.5 4.5l4.5 -4.5zM455.23 274.14l-4.5 4.5l4.5 4.5l4.5 -4.5zM458.65 277l-4.5 4.5l4.5 4.5l4.5 -4.5zM462.07 279.84l-4.5 4.5l4.5 4.5l4.5 -4.5zM465.5 282.58l-4.5 4.5l4.5 4.5l4.5 -4.5zM468.92 285.17l-4.5 4.5l4.5 4.5l4.5 -4.5zM472.34 287.58l-4.5 4.5l4.5 4.5l4.5 -4.5zM475.76 289.85l-4.5 4.5l4.5 4.5l4.5 -4.5zM479.18 292.05l-4.5 4.5l4.5 4.5l4.5 -4.5zM482.6 294.22l-4.5 4.5l4.5 4.5l4.5 -4.5zM486.02 296.42l-4.5 4.5l4.5 4.5l4.5 -4.5zM489.44 298.72l-4.5 4.5l4.5 4.5l4.5 -4.5zM492.86 301.15l-4.5 4.5l4.5 4.5l4.5 -4.5zM496.29 303.69l-4.5 4.5l4.5 4.5l4.5 -4.5zM499.71 306.24l-4.5 4.5l4.5 4.5l4.5 -4.5zM503.13 308.71l-4.5 4.5l4.5 4.5l4.5 -4.5zM506.55 311.01l-4.5 4.5l4.5 4.5l4.5 -4.5zM509.97 313.11l-4.5 4.5l4.5 4.5l4.5 -4.5zM513.39 315.09l-4.5 4.5l4.5 4.5l4.5 -4.5zM516.81 317l-4.5 4.5l4.5 4.5l4.5 -4.5zM520.23 318.88l-4.5 4.5l4.5 4.5l4.5 -4.5zM523.66 320.74l-4.5 4.5l4.5 4.5l4.5 -4.5zM527.08 322.54l-4.5 4.5l4.5 4.5l4.5 -4.5zM530.5 324.31l-4.5 4.5l4.5 4.5l4.5 -4.5zM533.92 326.07l-4.5 4.5l4.5 4.5l4.5 -4.5zM537.34 327.83l-4.5 4.5l4.5 4.5l4.5 -4.5zM540.76 329.6l-4.5 4.5l4.5 4.5l4.5 -4.5zM544.18 331.41l-4.5 4.5l4.5 4.5l4.5 -4.5zM547.61 333.24l-4.5 4.5l4.5 4.5l4.5 -4.5zM551.03 335.08l-4.5 4.5l4.5 4.5l4.5 -4.5zM554.45 336.89l-4.5 4.5l4.5 4.5l4.5 -4.5zM557.87 338.64l-4.5 4.5l4.5 4.5l4.5 -4.5zM561.29 340.31l-4.5 4.5l4.5 4.5l4.5 -4.5zM568.13 343.41l-4.5 4.5l4.5 4.5l4.5 -4.5zM574.97 346.3l-4.5 4.5l4.5 4.5l4.5 -4.5zM581.82 349.01l-4.5 4.5l4.5 4.5l4.5 -4.5zM588.66 351.66l-4.5 4.5l4.5 4.5l4.5 -4.5zM595.5 354.43l-4.5 4.5l4.5 4.5l4.5 -4.5zM602.34 357.22l-4.5 4.5l4.5 4.5l4.5 -4.5zM609.19 359.85l-4.5 4.5l4.5 4.5l4.5 -4.5zM616.03 362.29l-4.5 4.5l4.5 4.5l4.5 -4.5zM622.87 364.6l-4.5 4.5l4.5 4.5l4.5 -4.5zM629.71 366.78l-4.5 4.5l4.5 4.5l4.5 -4.5zM636.56 368.82l-4.5 4.5l4.5 4.5l4.5 -4.5zM643.4 370.72l-4.5 4.5l4.5 4.5l4.5 -4.5zM572.3 112l-4.5 4.5l4.5 4.5l4.5 -4.5z"/><path stroke="#ff00ff" stroke-linecap="round" stroke-width="1" d="M102.84 48.91h0M109.69 71.44h0M116.53 84.97h0M123.37 94.85h0M130.21 102.76h0M137.06 109.42h0M143.9 115.25h0M150.74 120.46h0M157.58 125.2h0M164.43 129.58h0M171.27 133.76h0M178.11 137.79h0M184.95 141.56h0M191.8 145.04h0M198.64 148.3h0M205.48 151.39h0M212.32 154.37h0M219.16 157.26h0M226.01 160.12h0M232.85 162.99h0M239.69 165.96h0M246.53 169.05h0M253.38 172.2h0M260.22 175.31h0M267.06 178.3h0M273.9 181.1h0M274.25 181.15h0M274.93 181.91h0M275.62 181.9h0M276.3 181.36h0M276.98 183.2h0M277.67 183.23h0M278.35 182.44h0M279.04 182.4h0M279.72 183.94h0M280.41 183.35h0M280.75 183.61h0M281.09 182.98h0M281.77 184.5h0M282.46 184.78h0M283.14 185.14h0M283.83 185.15h0M284.51 183.93h0M285.2 184.46h0M285.88 185.87h0M286.56 184.85h0M287.25 186.07h0M287.59 185.74h0M287.93 185.97h0M288.62 185.19h0M289.3 185.61h0M289.98 186.71h0M290.67 187.19h0M291.35 187h0M292.04 187.87h0M292.72 187.59h0M293.41 186.74h0M294.09 188.39h0M294.43 187.56h0M294.77 187.47h0M295.46 187.64h0M301.27 189.46h0M308.12 191.66h0M314.96 194.11h0M321.8 196.71h0M328.64 199.39h0M335.49 202.06h0M342.33 204.71h0M349.17 207.39h0M356.01 210.18h0M362.86 213.11h0M369.7 216.24h0M373.12 217.9h0M376.54 219.64h0M379.96 221.45h0M383.38 223.32h0M386.81 225.27h0M390.23 227.3h0M393.65 229.39h0M397.07 231.55h0M400.49 233.79h0M403.91 236.09h0M407.33 238.61h0M410.75 241.37h0M414.18 244.25h0M417.6 247.12h0M421.02 249.97h0M424.44 252.85h0M427.86 255.76h0M431.28 258.67h0M434.7 261.58h0M438.12 264.46h0M441.55 267.31h0M444.97 270.15h0M448.39 272.99h0M451.81 275.8h0M455.23 278.64h0M458.65 281.5h0M462.07 284.34h0M465.5 287.08h0M468.92 289.67h0M472.34 292.08h0M475.76 294.35h0M479.18 296.55h0M482.6 298.72h0M486.02 300.92h0M489.44 303.22h0M492.86 305.65h0M496.29 308.19h0M499.71 310.74h0M503.13 313.21h0M506.55 315.51h0M509.97 317.61h0M513.39 319.59h0M516.81 321.5h0M520.23 323.38h0M523.66 325.24h0M527.08 327.04h0M530.5 328.81h0M533.92 330.57h0M537.34 332.33h0M540.76 334.1h0M544.18 335.91h0M547.61 337.74h0M551.03 339.58h0M554.45 341.39h0M557.87 343.14h0M561.29 344.81h0M568.13 347.91h0M574.97 350.8h0M581.82 353.51h0M588.66 356.16h0M595.5 358.93h0M602.34 361.72h0M609.19 364.35h0M616.03 366.79h0M622.87 369.1h0M629.71 371.28h0M636.56 373.32h0M643.4 375.22h0M572.3 116.5h0"/>
<path stroke="#00ffff" d="M98.59 32.69l8.5 8.5m0 -8.5l-8.5 8.5M105.44 55.56l8.5 8.5m0 -8.5l-8.5 8.5M112.28 69.37l8.5 8.5m0 -8.5l-8.5 8.5M119.12 79.48l8.5 8.5m0 -8.5l-8.5 8.5M125.96 87.55l8.5 8.5m0 -8.5l-8.5 8.5M132.81 94.33l8.5 8.5m0 -8.5l-8.5 8.5M139.65 100.23l8.5 8.5m0 -8.5l-8.5 8.5M146.49 105.49l8.5 8.5m0 -8.5l-8.5 8.5M153.33 110.25l8.5 8.5m0 -8.5l-8.5 8.5M160.18 114.62l8.5 8.5m0 -8.5l-8.5 8.5M167.02 118.66l8.5 8.5m0 -8.5l-8.5 8.5M173.86 122.4l8.5 8.5m0 -8.5l-8.5 8.5M180.7 125.92l8.5 8.5m0 -8.5l-8.5 8.5M187.55 129.25l8.5 8.5m0 -8.5l-8.5 8.5M194.39 132.42l8.5 8.5m0 -8.5l-8.5 8.5M201.23 135.48l8.5 8.5m0 -8.5l-8.5 8.5M208.07 138.45l8.5 8.5m0 -8.5l-8.5 8.5M214.91 141.36l8.5 8.5m0 -8.5l-8.5 8.5M221.76 144.22l8.5 8.5m0 -8.5l-8.5 8.5M228.6 147.08l8.5 8.5m0 -8.5l-8.5 8.5M235.44 150.01l8.5 8.5m0 -8.5l-8.5 8.5M242.28 153.07l8.5 8.5m0 -8.5l-8.5 8.5M249.13 156.18l8.5 8.5m0 -8.5l-8.5 8.5M255.97 159.27l8.5 8.5m0 -8.5l-8.5 8.5M262.81 162.26l8.5 8.5m0 -8.5l-8.5 8.5M269.65 165.07l8.5 8.5m0 -8.5l-8.5 8.5M270 164.87l8.5 8.5m0 -8.5l-8.5 8.5M270.68 165.45l8.5 8.5m0 -8.5l-8.5 8.5M271.37 165.51l8.5 8.5m0 -8.5l-8.5 8.5M272.05 166.05l8.5 8.5m0 -8.5l-8.5 8.5M272.73 166.34l8.5 8.5m0 -8.5l-8.5 8.5M273.42 165.67l8.5 8.5m0 -8.5l-8.5 8.5M274.1 165.86l8.5 8.5m0 -8.5l-8.5 8.5M274.79 166.36l8.5 8.5m0 -8.5l-8.5 8.5M275.47 167.11l8.5 8.5m0 -8.5l-8.5 8.5M276.16 168.09l8.5 8.5m0 -8.5l-8.5 8.5M276.5 167.65l8.5 8.5m0 -8.5l-8.5 8.5M276.84 168.22l8.5 8.5m0 -8.5l-8.5 8.5M277.52 168.83l8.5 8.5m0 -8.5l-8.5 8.5M278.21 167.97l8.5 8.5m0 -8.5l-8.5 8.5M278.89 168.06l8.5 8.5m0 -8.5l-8.5 8.5M279.58 168.99l8.5 8.5m0 -8.5l-8.5 8.5M280.26 168.08l8.5 8.5m0 -8.5l-8.5 8.5M280.95 168.97l8.5 8.5m0 -8.5l-8.5 8.5M281.63 168.43l8.5 8.5m0 -8.5l-8.5 8.5M282.31 169.5l8.5 8.5m0 -8.5l-8.5 8.5M283 170.6l8.5 8.5m0 -8.5l-8.5 8.5M283.34 169.89l8.5 8.5m0 -8.5l-8.5 8.5M283.68 170.68l8.5 8.5m0 -8.5l-8.5 8.5M284.37 170.75l8.5 8.5m0 -8.5l-8.5 8.5M285.05 170.39l8.5 8.5m0 -8.5l-8.5 8.5M285.73 170.53l8.5 8.5m0 -8.5l-8.5 8.5M286.42 170.74l8.5 8.5m0 -8.5l-8.5 8.5M287.1 171.49l8.5 8.5m0 -8.5l-8.5 8.5M287.79 170.98l8.5 8.5m0 -8.5l-8.5 8.5M288.47 170.99l8.5 8.5m0 -8.5l-8.5 8.5M289.16 172.39l8.5 8.5m0 -8.5l-8.5 8.5M289.84 172.26l8.5 8.5m0 -8.5l-8.5 8.5M290.18 171.86l8.5 8.5m0 -8.5l-8.5 8.5M290.52 172.6l8.5 8.5m0 -8.5l-8.5 8.5M291.21 171.25l8.5 8.5m0 -8.5l-8.5 8.5M297.02 173.86l8.5 8.5m0 -8.5l-8.5 8.5M303.87 176.03l8.5 8.5m0 -8.5l-8.5 8.5M310.71 178.27l8.5 8.5m0 -8.5l-8.5 8.5M317.55 180.63l8.5 8.5m0 -8.5l-8.5 8.5M324.39 183.14l8.5 8.5m0 -8.5l-8.5 8.5M331.24 185.84l8.5 8.5m0 -8.5l-8.5 8.5M338.08 188.9l8.5 8.5m0 -8.5l-8.5 8.5M344.92 192.42l8.5 8.5m0 -8.5l-8.5 8.5M351.76 196.26l8.5 8.5m0 -8.5l-8.5 8.5M358.61 200.3l8.5 8.5m0 -8.5l-8.5 8.5M365.45 204.43l8.5 8.5m0 -8.5l-8.5 8.5M368.87 206.52l8.5 8.5m0 -8.5l-8.5 8.5M372.29 208.67l8.5 8.5m0 -8.5l-8.5 8.5M375.71 210.89l8.5 8.5m0 -8.5l-8.5 8.5M379.13 213.16l8.5 8.5m0 -8.5l-8.5 8.5M382.56 215.49l8.5 8.5m0 -8.5l-8.5 8.5M385.98 217.88l8.5 8.5m0 -8.5l-8.5 8.5M389.4 220.33l8.5 8.5m0 -8.5l-8.5 8.5M392.82 222.85l8.5 8.5m0 -8.5l-8.5 8.5M396.24 225.42l8.5 8.5m0 -8.5l-8.5 8.5M399.66 228.06l8.5 8.5m0 -8.5l-8.5 8.5M403.08 230.87l8.5 8.5m0 -8.5l-8.5 8.5M406.5 233.87l8.5 8.5m0 -8.5l-8.5 8.5M409.93 236.96l8.5 8.5m0 -8.5l-8.5 8.5M413.35 240.04l8.5 8.5m0 -8.5l-8.5 8.5M416.77 243.11l8.5 8.5m0 -8.5l-8.5 8.5M420.19 246.21l8.5 8.5m0 -8.5l-8.5 8.5M423.61 249.34l8.5 8.5m0 -8.5l-8.5 8.5M427.03 252.46l8.5 8.5m0 -8.5l-8.5 8.5M430.45 255.56l8.5 8.5m0 -8.5l-8.5 8.5M433.87 258.63l8.5 8.5m0 -8.5l-8.5 8.5M437.3 261.66l8.5 8.5m0 -8.5l-8.5 8.5M440.72 264.66l8.5 8.5m0 -8.5l-8.5 8.5M444.14 267.65l8.5 8.5m0 -8.5l-8.5 8.5M447.56 270.61l8.5 8.5m0 -8.5l-8.5 8.5M450.98 273.59l8.5 8.5m0 -8.5l-8.5 8.5M454.4 276.59l8.5 8.5m0 -8.5l-8.5 8.5M457.82 279.56l8.5 8.5m0 -8.5l-8.5 8.5M461.25 282.41l8.5 8.5m0 -8.5l-8.5 8.5M464.67 285.1l8.5 8.5m0 -8.5l-8.5 8.5M468.09 287.59l8.5 8.5m0 -8.5l-8.5 8.5M471.51 289.93l8.5 8.5m0 -8.5l-8.5 8.5M474.93 292.18l8.5 8.5m0 -8.5l-8.5 8.5M478.35 294.4l8.5 8.5m0 -8.5l-8.5 8.5M481.77 296.64l8.5 8.5m0 -8.5l-8.5 8.5M485.19 298.97l8.5 8.5m0 -8.5l-8.5 8.5M488.61 301.42l8.5 8.5m0 -8.5l-8.5 8.5M492.04 303.96l8.5 8.5m0 -8.5l-8.5 8.5M495.46 306.51l8.5 8.5m0 -8.5l-8.5 8.5M498.88 308.97l8.5 8.5m0 -8.5l-8.5 8.5M502.3 311.26l8.5 8.5m0 -8.5l-8.5 8.5M505.72 313.36l8.5 8.5m0 -8.5l-8.5 8.5M509.14 315.34l8.5 8.5m0 -8.5l-8.5 8.5M512.56 317.25l8.5 8.5m0 -8.5l-8.5 8.5M515.98 319.13l8.5 8.5m0 -8.5l-8.5 8.5M519.41 320.99l8.5 8.5m0 -8.5l-8.5 8.5M522.83 322.79l8.5 8.5m0 -8.5l-8.5 8.5M526.25 324.56l8.5 8.5m0 -8.5l-8.5 8.5M529.67 326.32l8.5 8.5m0 -8.5l-8.5 8.5M533.09 328.08l8.5 8.5m0 -8.5l-8.5 8.5M536.51 329.85l8.5 8.5m0 -8.5l-8.5 8.5M539.93 331.66l8.5 8.5m0 -8.5l-8.5 8.5M543.36 333.49l8.5 8.5m0 -8.5l-8.5 8.5M546.78 335.33l8.5 8.5m0 -8.5l-8.5 8.5M550.2 337.14l8.5 8.5m0 -8.5l-8.5 8.5M553.62 338.89l8.5 8.5m0 -8.5l-8.5 8.5M557.04 340.56l8.5 8.5m0 -8.5l-8.5 8.5M563.88 343.66l8.5 8.5m0 -8.5l-8.5 8.5M570.72 346.55l8.5 8.5m0 -8.5l-8.5 8.5M577.57 349.26l8.5 8.5m0 -8.5l-8.5 8.5M584.41 351.91l8.5 8.5m0 -8.5l-8.5 8.5M591.25 354.68l8.5 8.5m0 -8.5l-8.5 8.5M598.09 357.47l8.5 8.5m0 -8.5l-8.5 8.5M604.94 360.1l8.5 8.5m0 -8.5l-8.5 8.5M611.78 362.54l8.5 8.5m0 -8.5l-8.5 8.5M618.62 364.85l8.5 8.5m0 -8.5l-8.5 8.5M625.46 367.03l8.5 8.5m0 -8.5l-8.5 8.5M632.31 369.07l8.5 8.5m0 -8.5l-8.5 8.5M639.15 370.97l8.5 8.5m0 -8.5l-8.5 8.5M568.05 140.15l8.5 8.5m0 -8.5l-8.5 8.5"/>
<path stroke="#ff4500" d="M98.59 15.35l8.5 8.5m0 -8.5l-8.5 8.5M98.34 19.6h9.0M102.84 15.1v9.0M105.44 38.04l8.5 8.5m0 -8.5l-8.5 8.5M105.19 42.29h9.0M109.69 37.79v9.0M112.28 51.59l8.5 8.5m0 -8.5l-8.5 8.5M112.03 55.84h9.0M116.53 51.34v9.0M119.12 62.31l8.5 8.5m0 -8.5l-8.5 8.5M118.87 66.56h9.0M123.37 62.06v9.0M125.96 69.87l8.5 8.5m0 -8.5l-8.5 8.5M125.71 74.12h9.0M130.21 69.62v9.0M132.81 77.12l8.5 8.5m0 -8.5l-8.5 8.5M132.56 81.37h9.0M137.06 76.87v9.0M139.65 82.79l8.5 8.5m0 -8.5l-8.5 8.5M139.4 87.04h9.0M143.9 82.54v9.0M146.49 88.15l8.5 8.5m0 -8.5l-8.5 8.5M146.24 92.4h9.0M150.74 87.9v9.0M153.33 92.87l8.5 8.5m0 -8.5l-8.5 8.5M153.08 97.12h9.0M157.58 92.62v9.0M160.18 97.29l8.5 8.5m0 -8.5l-8.5 8.5M159.93 101.54h9.0M164.43 97.04v9.0M167.02 101.5l8.5 8.5m0 -8.5l-8.5 8.5M166.77 105.75h9.0M171.27 101.25v9.0M173.86 105.51l8.5 8.5m0 -8.5l-8.5 8.5M173.61 109.76h9.0M178.11 105.26v9.0M180.7 109.35l8.5 8.5m0 -8.5l-8.5 8.5M180.45 113.6h9.0M184.95 109.1v9.0M187.55 113.04l8.5 8.5m0 -8.5l-8.5 8.5M187.3 117.29h9.0M191.8 112.79v9.0M194.39 116.6l8.5 8.5m0 -8.5l-8.5 8.5M194.14 120.85h9.0M198.64 116.35v9.0M201.23 120.04l8.5 8.5m0 -8.5l-8.5 8.5M200.98 124.29h9.0M205.48 119.79v9.0M208.07 123.35l8.5 8.5m0 -8.5l-8.5 8.5M207.82 127.6h9.0M212.32 123.1v9.0M214.91 126.54l8.5 8.5m0 -8.5l-8.5 8.5M214.66 130.79h9.0M219.16 126.29v9.0M221.76 129.62l8.5 8.5m0 -8.5l-8.5 8.5M221.51 133.87h9.0M226.01 129.37v9.0M228.6 132.58l8.5 8.5m0 -8.5l-8.5 8.5M228.35 136.83h9.0M232.85 132.33v9.0M235.44 135.41l8.5 8.5m0 -8.5l-8.5 8.5M235.19 139.66h9.0M239.69 135.16v9.0M242.28 138.14l8.5 8.5m0 -8.5l-8.5 8.5M242.03 142.39h9.0M246.53 137.89v9.0M249.13 140.81l8.5 8.5m0 -8.5l-8.5 8.5M248.88 145.06h9.0M253.38 140.56v9.0M255.97 143.46l8.5 8.5m0 -8.5l-8.5 8.5M255.72 147.71h9.0M260.22 143.21v9.0M262.81 146.13l8.5 8.5m0 -8.5l-8.5 8.5M262.56 150.38h9.0M267.06 145.88v9.0M269.65 148.89l8.5 8.5m0 -8.5l-8.5 8.5M269.4 153.14h9.0M273.9 148.64v9.0M270 148.4l8.5 8.5m0 -8.5l-8.5 8.5M269.75 152.65h9.0M274.25 148.15v9.0M270.68 149.65l8.5 8.5m0 -8.5l-8.5 8.5M270.43 153.9h9.0M274.93 149.4v9.0M271.37 149.82l8.5 8.5m0 -8.5l-8.5 8.5M271.12 154.07h9.0M275.62 149.57v9.0M272.05 150.24l8.5 8.5m0 -8.5l-8.5 8.5M271.8 154.49h9.0M276.3 149.99v9.0M272.73 150.03l8.5 8.5m0 -8.5l-8.5 8.5M272.48 154.28h9.0M276.98 149.78v9.0M273.42 150.06l8.5 8.5m0 -8.5l-8.5 8.5M273.17 154.31h9.0M277.67 149.81v9.0M274.1 151.33l8.5 8.5m0 -8.5l-8.5 8.5M273.85 155.58h9.0M278.35 151.08v9.0M274.79 151.2l8.5 8.5m0 -8.5l-8.5 8.5M274.54 155.45h9.0M279.04 150.95v9.0M275.47 151.65l8.5 8.5m0 -8.5l-8.5 8.5M275.22 155.9h9.0M279.72 151.4v9.0M276.16 151.11l8.5 8.5m0 -8.5l-8.5 8.5M275.91 155.36h9.0M280.41 150.86v9.0M276.5 151.69l8.5 8.5m0 -8.5l-8.5 8.5M276.25 155.94h9.0M280.75 151.44v9.0M276.84 151.01l8.5 8.5m0 -8.5l-8.5 8.5M276.59 155.26h9.0M281.09 150.76v9.0M277.52 151.43l8.5 8.5m0 -8.5l-8.5 8.5M277.27 155.68h9.0M281.77 151.18v9.0M278.21 152.56l8.5 8.5m0 -8.5l-8.5 8.5M277.96 156.81h9.0M282.46 152.31v9.0M278.89 153.5l8.5 8.5m0 -8.5l-8.5 8.5M278.64 157.75h9.0M283.14 153.25v9.0M279.58 153.73l8.5 8.5m0 -8.5l-8.5 8.5M279.33 157.98h9.0M283.83 153.48v9.0M280.26 152.41l8.5 8.5m0 -8.5l-8.5 8.5M280.01 156.66h9.0M284.51 152.16v9.0M280.95 153.4l8.5 8.5m0 -8.5l-8.5 8.5M280.7 157.65h9.0M285.2 153.15v9.0M281.63 153.8l8.5 8.5m0 -8.5l-8.5 8.5M281.38 158.05h9.0M285.88 153.55v9.0M282.31 154.48l8.5 8.5m0 -8.5l-8.5 8.5M282.06 158.73h9.0M286.56 154.23v9.0M283 154.31l8.5 8.5m0 -8.5l-8.5 8.5M282.75 158.56h9.0M287.25 154.06v9.0M283.34 154.39l8.5 8.5m0 -8.5l-8.5 8.5M283.09 158.64h9.0M287.59 154.14v9.0M283.68 154.19l8.5 8.5m0 -8.5l-8.5 8.5M283.43 158.44h9.0M287.93 153.94v9.0M284.37 153.88l8.5 8.5m0 -8.5l-8.5 8.5M284.12 158.13h9.0M288.62 153.63v9.0M285.05 154.15l8.5 8.5m0 -8.5l-8.5 8.5M284.8 158.4h9.0M289.3 153.9v9.0M285.73 155.26l8.5 8.5m0 -8.5l-8.5 8.5M285.48 159.51h9.0M289.98 155.01v9.0M286.42 154.83l8.5 8.5m0 -8.5l-8.5 8.5M286.17 159.08h9.0M290.67 154.58v9.0M287.1 155.21l8.5 8.5m0 -8.5l-8.5 8.5M286.85 159.46h9.0M291.35 154.96v9.0M287.79 155.52l8.5 8.5m0 -8.5l-8.5 8.5M287.54 159.77h9.0M292.04 155.27v9.0M288.47 156.21l8.5 8.5m0 -8.5l-8.5 8.5M288.22 160.46h9.0M292.72 155.96v9.0M289.16 156.36l8.5 8.5m0 -8.5l-8.5 8.5M288.91 160.61h9.0M293.41 156.11v9.0M289.84 157.05l8.5 8.5m0 -8.5l-8.5 8.5M289.59 161.3h9.0M294.09 156.8v9.0M290.18 156.99l8.5 8.5m0 -8.5l-8.5 8.5M289.93 161.24h9.0M294.43 156.74v9.0M290.52 156.98l8.5 8.5m0 -8.5l-8.5 8.5M290.27 161.23h9.0M294.77 156.73v9.0M291.21 157.1l8.5 8.5m0 -8.5l-8.5 8.5M290.96 161.35h9.0M295.46 156.85v9.0M297.02 159.68l8.5 8.5m0 -8.5l-8.5 8.5M296.77 163.93h9.0M301.27 159.43v9.0M303.87 162.54l8.5 8.5m0 -8.5l-8.5 8.5M303.62 166.79h9.0M308.12 162.29v9.0M310.71 165.52l8.5 8.5m0 -8.5l-8.5 8.5M310.46 169.77h9.0M314.96 165.27v9.0M317.55 168.6l8.5 8.5m0 -8.5l-8.5 8.5M317.3 172.85h9.0M321.8 168.35v9.0M324.39 171.8l8.5 8.5m0 -8.5l-8.5 8.5M324.14 176.05h9.0M328.64 171.55v9.0M331.24 175.12l8.5 8.5m0 -8.5l-8.5 8.5M330.99 179.37h9.0M335.49 174.87v9.0M338.08 178.58l8.5 8.5m0 -8.5l-8.5 8.5M337.83 182.83h9.0M342.33 178.33v9.0M344.92 182.2l8.5 8.5m0 -8.5l-8.5 8.5M344.67 186.45h9.0M349.17 181.95v9.0M351.76 186.02l8.5 8.5m0 -8.5l-8.5 8.5M351.51 190.27h9.0M356.01 185.77v9.0M358.61 190.06l8.5 8.5m0 -8.5l-8.5 8.5M358.36 194.31h9.0M362.86 189.81v9.0M365.45 194.34l8.5 8.5m0 -8.5l-8.5 8.5M365.2 198.59h9.0M369.7 194.09v9.0M368.87 196.61l8.5 8.5m0 -8.5l-8.5 8.5M368.62 200.86h9.0M373.12 196.36v9.0M372.29 198.99l8.5 8.5m0 -8.5l-8.5 8.5M372.04 203.24h9.0M376.54 198.74v9.0M375.71 201.48l8.5 8.5m0 -8.5l-8.5 8.5M375.46 205.73h9.0M379.96 201.23v9.0M379.13 204.09l8.5 8.5m0 -8.5l-8.5 8.5M378.88 208.34h9.0M383.38 203.84v9.0M382.56 206.82l8.5 8.5m0 -8.5l-8.5 8.5M382.31 211.07h9.0M386.81 206.57v9.0M385.98 209.66l8.5 8.5m0 -8.5l-8.5 8.5M385.73 213.91h9.0M390.23 209.41v9.0M389.4 212.62l8.5 8.5m0 -8.5l-8.5 8.5M389.15 216.87h9.0M393.65 212.37v9.0M392.82 215.87l8.5 8.5m0 -8.5l-8.5 8.5M392.57 220.12h9.0M397.07 215.62v9.0M396.24 219.42l8.5 8.5m0 -8.5l-8.5 8.5M395.99 223.67h9.0M400.49 219.17v9.0M399.66 223.02l8.5 8.5m0 -8.5l-8.5 8.5M399.41 227.27h9.0M403.91 222.77v9.0M403.08 226.62l8.5 8.5m0 -8.5l-8.5 8.5M402.83 230.87h9.0M407.33 226.37v9.0M406.5 230.28l8.5 8.5m0 -8.5l-8.5 8.5M406.25 234.53h9.0M410.75 230.03v9.0M409.93 233.93l8.5 8.5m0 -8.5l-8.5 8.5M409.68 238.18h9.0M414.18 233.68v9.0M413.35 237.52l8.5 8.5m0 -8.5l-8.5 8.5M413.1 241.77h9.0M417.6 237.27v9.0M416.77 241.03l8.5 8.5m0 -8.5l-8.5 8.5M416.52 245.28h9.0M421.02 240.78v9.0M420.19 244.51l8.5 8.5m0 -8.5l-8.5 8.5M419.94 248.76h9.0M424.44 244.26v9.0M423.61 247.95l8.5 8.5m0 -8.5l-8.5 8.5M423.36 252.2h9.0M427.86 247.7v9.0M427.03 251.35l8.5 8.5m0 -8.5l-8.5 8.5M426.78 255.6h9.0M431.28 251.1v9.0M430.45 254.7l8.5 8.5m0 -8.5l-8.5 8.5M430.2 258.95h9.0M434.7 254.45v9.0M433.87 258l8.5 8.5m0 -8.5l-8.5 8.5M433.62 262.25h9.0M438.12 257.75v9.0M437.3 261.24l8.5 8.5m0 -8.5l-8.5 8.5M437.05 265.49h9.0M441.55 260.99v9.0M440.72 264.42l8.5 8.5m0 -8.5l-8.5 8.5M440.47 268.67h9.0M444.97 264.17v9.0M444.14 267.55l8.5 8.5m0 -8.5l-8.5 8.5M443.89 271.8h9.0M448.39 267.3v9.0M447.56 270.61l8.5 8.5m0 -8.5l-8.5 8.5M447.31 274.86h9.0M451.81 270.36v9.0M450.98 273.64l8.5 8.5m0 -8.5l-8.5 8.5M450.73 277.89h9.0M455.23 273.39v9.0M454.4 276.65l8.5 8.5m0 -8.5l-8.5 8.5M454.15 280.9h9.0M458.65 276.4v9.0M457.82 279.59l8.5 8.5m0 -8.5l-8.5 8.5M457.57 283.84h9.0M462.07 279.34v9.0M461.25 282.43l8.5 8.5m0 -8.5l-8.5 8.5M461 286.68h9.0M465.5 282.18v9.0M464.67 285.1l8.5 8.5m0 -8.5l-8.5 8.5M464.42 289.35h9.0M468.92 284.85v9.0M468.09 287.59l8.5 8.5m0 -8.5l-8.5 8.5M467.84 291.84h9.0M472.34 287.34v9.0M471.51 289.93l8.5 8.5m0 -8.5l-8.5 8.5M471.26 294.18h9.0M475.76 289.68v9.0M474.93 292.18l8.5 8.5m0 -8.5l-8.5 8.5M474.68 296.43h9.0M479.18 291.93v9.0M478.35 294.4l8.5 8.5m0 -8.5l-8.5 8.5M478.1 298.65h9.0M482.6 294.15v9.0M481.77 296.64l8.5 8.5m0 -8.5l-8.5 8.5M481.52 300.89h9.0M486.02 296.39v9.0M485.19 298.97l8.5 8.5m0 -8.5l-8.5 8.5M484.94 303.22h9.0M489.44 298.72v9.0M488.61 301.42l8.5 8.5m0 -8.5l-8.5 8.5M488.36 305.67h9.0M492.86 301.17v9.0M492.04 303.96l8.5 8.5m0 -8.5l-8.5 8.5M491.79 308.21h9.0M496.29 303.71v9.0M495.46 306.51l8.5 8.5m0 -8.5l-8.5 8.5M495.21 310.76h9.0M499.71 306.26v9.0M498.88 308.97l8.5 8.5m0 -8.5l-8.5 8.5M498.63 313.22h9.0M503.13 308.72v9.0M502.3 311.26l8.5 8.5m0 -8.5l-8.5 8.5M502.05 315.51h9.0M506.55 311.01v9.0M505.72 313.36l8.5 8.5m0 -8.5l-8.5 8.5M505.47 317.61h9.0M509.97 313.11v9.0M509.14 315.34l8.5 8.5m0 -8.5l-8.5 8.5M508.89 319.59h9.0M513.39 315.09v9.0M512.56 317.25l8.5 8.5m0 -8.5l-8.5 8.5M512.31 321.5h9.0M516.81 317v9.0M515.98 319.13l8.5 8.5m0 -8.5l-8.5 8.5M515.73 323.38h9.0M520.23 318.88v9.0M519.41 320.99l8.5 8.5m0 -8.5l-8.5 8.5M519.16 325.24h9.0M523.66 320.74v9.0M522.83 322.79l8.5 8.5m0 -8.5l-8.5 8.5M522.58 327.04h9.0M527.08 322.54v9.0M526.25 324.56l8.5 8.5m0 -8.5l-8.5 8.5M526 328.81h9.0M530.5 324.31v9.0M529.67 326.32l8.5 8.5m0 -8.5l-8.5 8.5M529.42 330.57h9.0M533.92 326.07v9.0M533.09 328.08l8.5 8.5m0 -8.5l-8.5 8.5M532.84 332.33h9.0M537.34 327.83v9.0M536.51 329.85l8.5 8.5m0 -8.5l-8.5 8.5M536.26 334.1h9.0M540.76 329.6v9.0M539.93 331.66l8.5 8.5m0 -8.5l-8.5 8.5M539.68 335.91h9.0M544.18 331.41v9.0M543.36 333.49l8.5 8.5m0 -8.5l-8.5 8.5M543.11 337.74h9.0M547.61 333.24v9.0M546.78 335.33l8.5 8.5m0 -8.5l-8.5 8.5M546.53 339.58h9.0M551.03 335.08v9.0M550.2 337.14l8.5 8.5m0 -8.5l-8.5 8.5M549.95 341.39h9.0M554.45 336.89v9.0M553.62 338.89l8.5 8.5m0 -8.5l-8.5 8.5M553.37 343.14h9.0M557.87 338.64v9.0M557.04 340.56l8.5 8.5m0 -8.5l-8.5 8.5M556.79 344.81h9.0M561.29 340.31v9.0M563.88 343.66l8.5 8.5m0 -8.5l-8.5 8.5M563.63 347.91h9.0M568.13 343.41v9.0M570.72 346.55l8.5 8.5m0 -8.5l-8.5 8.5M570.47 350.8h9.0M574.97 346.3v9.0M577.57 349.26l8.5 8.5m0 -8.5l-8.5 8.5M577.32 353.51h9.0M581.82 349.01v9.0M584.41 351.91l8.5 8.5m0 -8.5l-8.5 8.5M584.16 356.16h9.0M588.66 351.66v9.0M591.25 354.68l8.5 8.5m0 -8.5l-8.5 8.5M591 358.93h9.0M595.5 354.43v9.0M598.09 357.47l8.5 8.5m0 -8.5l-8.5 8.5M597.84 361.72h9.0M602.34 357.22v9.0M604.94 360.1l8.5 8.5m0 -8.5l-8.5 8.5M604.69 364.35h9.0M609.19 359.85v9.0M611.78 362.54l8.5 8.5m0 -8.5l-8.5 8.5M611.53 366.79h9.0M616.03 362.29v9.0M618.62 364.85l8.5 8.5m0 -8.5l-8.5 8.5M618.37 369.1h9.0M622.87 364.6v9.0M625.46 367.03l8.5 8.5m0 -8.5l-8.5 8.5M625.21 371.28h9.0M629.71 366.78v9.0M632.31 369.07l8.5 8.5m0 -8.5l-8.5 8.5M632.06 373.32h9.0M636.56 368.82v9.0M639.15 370.97l8.5 8.5m0 -8.5l-8.5 8.5M638.9 375.22h9.0M643.4 370.72v9.0M568.05 167.75l8.5 8.5m0 -8.5l-8.5 8.5M567.8 172h9.0M572.3 167.5v9.0"/>
</g>
</svg>
</body></html>
